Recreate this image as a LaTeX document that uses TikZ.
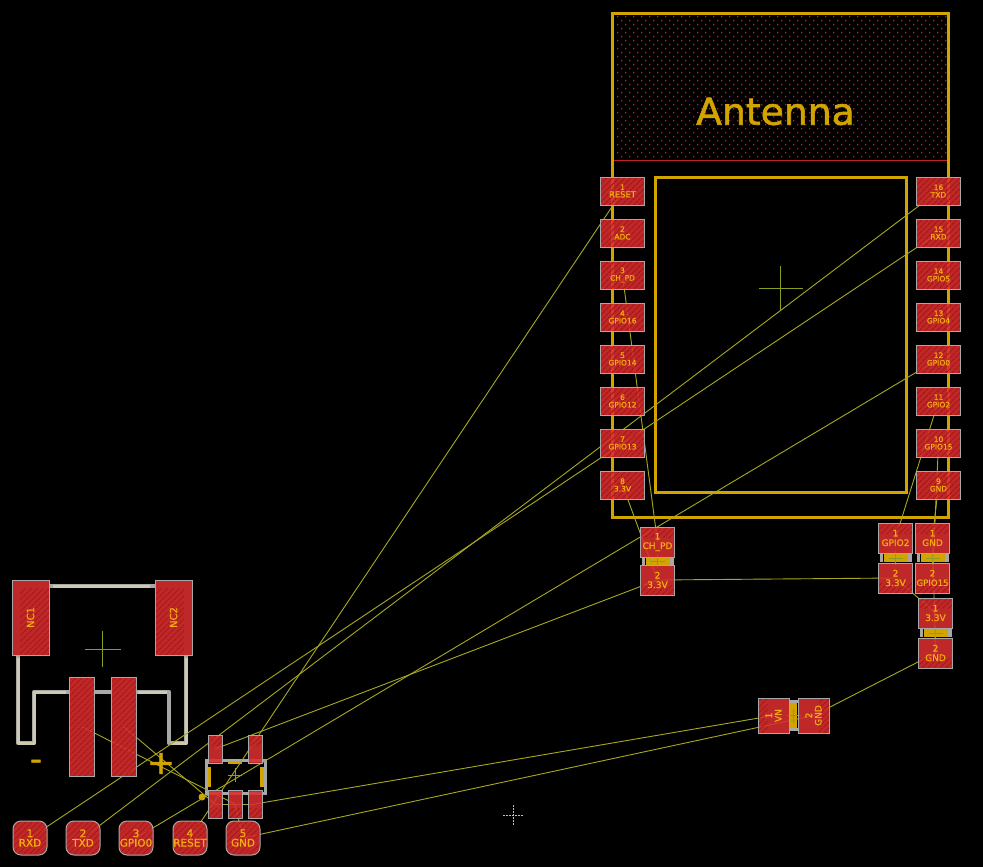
\documentclass[tikz,border=0pt]{standalone}
\usepackage{fontspec}
\setmainfont[FakeBold=0.8]{DejaVu Sans}
\newfontfamily\heavyfont[FakeBold=1.6]{DejaVu Sans}
\usetikzlibrary{patterns.meta}
\definecolor{gold}{HTML}{D2A400}
\definecolor{padred}{HTML}{DA2E2E}
\definecolor{hatchred}{HTML}{A81414}
\definecolor{padgray}{HTML}{A8A8A8}
\definecolor{padtext}{HTML}{F2AE10}
\definecolor{rats}{HTML}{A8A820}
\definecolor{crossgreen}{HTML}{8C9C20}
\definecolor{silk}{HTML}{CFC9AE}
\definecolor{dotred}{HTML}{C02222}
\pgfdeclarelayer{bg}
\pgfsetlayers{bg,main}
\newcommand{\pcbcross}[3]{\draw[crossline] (#1-#3,#2) -- (#1+#3,#2) (#1,#2-#3) -- (#1,#2+#3);}
\tikzset{
  x=1pt,y=-1pt,
  pad/.style={rectangle,draw=padgray,line width=1pt,fill=padred,fill opacity=.88,draw opacity=1,text opacity=1,text=padtext,inner sep=0pt,align=center},
  padhatch/.style n args={4}{path picture={\fill[pattern={Lines[angle=45,distance=4pt,line width=1.2pt]},pattern color=hatchred] ([xshift=#1pt,yshift=-#2pt]path picture bounding box.north west) rectangle ([xshift=-#3pt,yshift=#4pt]path picture bounding box.south east);}},
  modpad/.style={pad,minimum width=44pt,minimum height=28pt,font=\fontsize{7.5}{7.5}\selectfont,padhatch={0}{0}{0}{0}},
  cappad/.style={pad,minimum width=34.5pt,minimum height=30pt,font=\fontsize{9}{9.5}\selectfont},
  hdrpad/.style={pad,minimum width=34pt,minimum height=34pt,rounded corners=8pt,font=\fontsize{10.5}{9.5}\selectfont,padhatch={0}{0}{0}{0}},
  sotpad/.style={pad,minimum width=14pt,minimum height=28pt},
  bigpad/.style={pad,minimum width=25pt,minimum height=99pt,padhatch={0}{0}{0}{0}},
  ncpad/.style={pad,minimum width=37pt,minimum height=75pt},
  padlabel/.style={text=padtext,inner sep=0pt,align=center,rotate=90},
  rat/.style={draw=rats,line width=.9pt},
  crossline/.style={draw=crossgreen,line width=.8pt},
  outline/.style={draw=gold,line width=3pt,line join=miter},
  silkunder/.style={draw=padgray,line width=4.5pt,line join=round},
  silktop/.style={draw=silk,line width=3pt,line join=round},
  goldbar/.style={fill=gold,draw=none},
  graybar/.style={fill=padgray,draw=none},
}
\begin{document}
\begin{tikzpicture}
\useasboundingbox (0,0) rectangle (983,867);

% module pads
\foreach \n/\y/\t in {1/191/{1\\\fontsize{8.4}{7.5}\selectfont RESET},2/233/{2\\ADC},3/275/{3\\CH\_PD},4/317/{4\\GPIO16},5/359/{5\\GPIO14},6/401/{6\\GPIO12},7/443/{7\\GPIO13},8/485/{8\\3.3V}}
  \node[modpad] (m\n) at (622.5,\y) {\t};
\foreach \n/\y/\t in {16/191/{16\\TXD},15/233/{15\\RXD},14/275/{14\\GPIO5},13/317/{13\\GPIO4},12/359/{12\\GPIO0},11/401/{11\\GPIO2},10/443/{10\\GPIO15},9/485/{9\\GND}}
  \node[modpad] (m\n) at (938.5,\y) {\t};

% capacitor pads
\node[cappad,padhatch={0}{0}{0}{20}] (c1a) at (657.5,542) {1\\CH\_PD};
\node[cappad,padhatch={0}{20}{0}{0}] (c1b) at (657.5,580) {2\\3.3V};
\node[cappad,padhatch={0}{0}{0}{20}] (c2a) at (895.5,538) {1\\GPIO2};
\node[cappad,padhatch={0}{20}{0}{0}] (c2b) at (895.5,578) {2\\3.3V};
\node[cappad,padhatch={0}{0}{0}{20}] (c3a) at (932.5,538) {1\\GND};
\node[cappad,padhatch={0}{20}{0}{0},font=\fontsize{8.6}{9.5}\selectfont] (c3b) at (932.5,578) {2\\GPIO15};
\node[cappad,padhatch={0}{0}{0}{20}] (c4a) at (935.5,613) {1\\3.3V};
\node[cappad,padhatch={0}{20}{0}{0}] (c4b) at (935.5,653) {2\\GND};

% horizontal capacitor
\node[pad,minimum width=31pt,minimum height=35pt,padhatch={0}{0}{21}{0}] (v1) at (773.5,715.5) {};
\node[pad,minimum width=31pt,minimum height=35pt,padhatch={21}{0}{0}{0}] (v2) at (813.5,715.5) {};
\node[padlabel,font=\fontsize{9}{9.5}\selectfont] (v1t) at (v1.center) {1\\VN};
\node[padlabel,font=\fontsize{9}{9.5}\selectfont] (v2t) at (v2.center) {2\\GND};

% header pads
\node[hdrpad] (j1) at (30,838) {1\\RXD};
\node[hdrpad] (j2) at (83,838) {2\\TXD};
\node[hdrpad] (j3) at (136,838) {3\\GPIO0};
\node[hdrpad] (j4) at (190,838) {4\\RESET};
\node[hdrpad] (j5) at (243,838) {5\\GND};

% SOT pads
\node[sotpad,padhatch={0}{0}{0}{18}] (s4) at (215,749) {};
\node[sotpad,padhatch={0}{0}{0}{18}] (s5) at (255,749) {};
\node[sotpad,padhatch={0}{18}{0}{0}] (s1) at (215,804) {};
\node[sotpad,padhatch={0}{18}{0}{0}] (s2) at (235,804) {};
\node[sotpad,padhatch={0}{18}{0}{0}] (s3) at (255,804) {};

% battery connector pads
\node[bigpad] (b1) at (81.5,726.5) {};
\node[bigpad] (b2) at (123.5,726.5) {};
\node[ncpad,padhatch={8}{8}{0}{0}] (nc1) at (30.5,617.5) {};
\node[ncpad,padhatch={0}{8}{8}{0}] (nc2) at (173.5,617.5) {};
\node[padlabel,font=\fontsize{10}{10}\selectfont] (nc1t) at (nc1.center) {NC1};
\node[padlabel,font=\fontsize{10}{10}\selectfont] (nc2t) at (nc2.center) {NC2};

% free texts
\node[text=gold,inner sep=0pt,xscale=1.02,font=\heavyfont\fontsize{37}{37}\selectfont] (ant) at (775.5,111.5) {Antenna};
\node[text=gold,inner sep=0pt,font=\heavyfont\fontsize{33}{33}\selectfont] (minus) at (36,765) {-};
\node[text=gold,inner sep=0pt,font=\heavyfont\fontsize{33}{33}\selectfont] (plus) at (161,763.5) {+};

\begin{pgfonlayer}{bg}
  \fill[black] (0,0) rectangle (983,867);
  % antenna dots
  \fill[dotred] \foreach \y in {20,28,...,156} { \foreach \x in {621,629,...,945} { (\x,\y) rectangle ++(1.3,1.3) } };
  \fill[dotred] \foreach \y in {16,24,...,152} { \foreach \x in {617,625,...,945} { (\x,\y) rectangle ++(1.3,1.3) } };
  \draw[draw=dotred,line width=1pt] (612,160.5) -- (948,160.5);
  % module outline
  \draw[outline] (612.5,14) rectangle (948,517.5);
  \draw[outline] (655,177) rectangle (906,492);

  % battery outline
  \draw[silkunder] (49,586) -- (155,586);
  \draw[silkunder] (18,655) -- (18,743) -- (34,743) -- (34,692) -- (69,692);
  \draw[silkunder] (94,692) -- (111,692);
  \draw[silkunder] (136,692) -- (169,692) -- (169,743) -- (186,743) -- (186,655);
  \draw[silktop] (53,586) -- (150,586);
  \draw[silktop] (18,658) -- (18,743) -- (34,743) -- (34,692) -- (66,692);
  \draw[silktop] (138,692) -- (167,692);
  \draw[silktop] (171,743) -- (186,743) -- (186,658);

  % SOT body
  \draw[draw=padgray,line width=3pt] (206,760) rectangle (265,793);
  \fill[goldbar] (207.5,767) rectangle (211,787);
  \fill[goldbar] (260,767) rectangle (263.5,787);
  \fill[goldbar] (228,760.5) rectangle (242,764);
  \fill[gold] (202,797) circle (3.5);

  % capacitor bodies
  \foreach \cx/\cy in {657.5/561,895.5/558,932.5/558,935.5/633} {
    \fill[graybar] (\cx-16,\cy-4) rectangle (\cx-12.5,\cy+4);
    \fill[graybar] (\cx+12.5,\cy-4) rectangle (\cx+16,\cy+4);
    \fill[goldbar] (\cx-12,\cy-4) rectangle (\cx+12,\cy+4);
  }
  \fill[graybar] (789.5,700) rectangle (797.5,703);
  \fill[graybar] (789.5,728) rectangle (797.5,731);
  \fill[goldbar] (790,703) rectangle (797,728);

  % centre crosses
  \pcbcross{780.5}{288}{22}
  \pcbcross{102.5}{649}{18}
  \pcbcross{235}{775}{7}
  \pcbcross{657.5}{561}{7}
  \pcbcross{895.5}{558}{7}
  \pcbcross{932.5}{558}{7}
  \pcbcross{935.5}{633}{7}
  \pcbcross{793.5}{715.5}{7}
  \draw[draw=white!75!black,line width=.6pt,dash pattern=on 2pt off 1pt] (503,815) -- (523,815) (513,805) -- (513,825);

  % ratsnest
  \draw[rat] (m16.center) -- (j2.center);
  \draw[rat] (m15.center) -- (j1.center);
  \draw[rat] (m12.center) -- (j3.center);
  \draw[rat] (m1.center) -- (j4.center);
  \draw[rat] (m3.center) -- (c1a.center);
  \draw[rat] (m8.center) -- (c1b.center);
  \draw[rat] (c1b.center) -- (c2b.center);
  \draw[rat] (c1b.center) -- (s4.center);
  \draw[rat] (m11.center) -- (c2a.center);
  \draw[rat] (m10.center) -- (c3b.center);
  \draw[rat] (m9.center) -- (c3a.center);
  \draw[rat] (c2b.center) -- (c4a.center);
  \draw[rat] (c3a.center) -- (c4b.center);
  \draw[rat] (c4b.center) -- (v2.center);
  \draw[rat] (v2.center) -- (j5.center);
  \draw[rat] (v1.center) -- (s3.center);
  \draw[rat] (s1.center) -- (s2.center);
  \draw[rat] (s2.center) -- (s3.center);
  \draw[rat] (s2.center) -- (j5.center);
  \draw[rat] (b1.center) -- (s2.center);
  \draw[rat] (b2.center) -- (s1.center);
\end{pgfonlayer}
\end{tikzpicture}
\end{document}
